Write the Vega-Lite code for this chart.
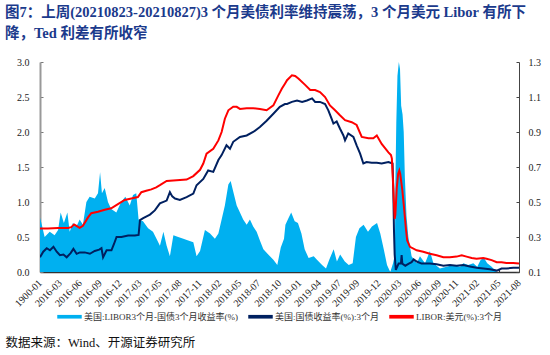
{
  "$schema": "https://vega.github.io/schema/vega-lite/v6.json",
  "autosize": "none",
  "width": 479,
  "height": 210,
  "padding": {"left": 40, "top": 62, "right": 31, "bottom": 83},
  "background": "white",
  "config": {
    "view": {"stroke": null},
    "font": "Liberation Serif, Noto Sans CJK SC",
    "axis": {"grid": false, "labelFont": "Liberation Serif, Noto Sans CJK SC", "labelFontSize": 10, "labelColor": "#222", "labelOverlap": false}
  },
  "title": {
    "text": ["图7：上周(20210823-20210827)3 个月美债利率维持震荡，3 个月美元 Libor 有所下", "降，Ted 利差有所收窄"],
    "anchor": "start",
    "frame": "group",
    "dx": -35,
    "offset": 16,
    "font": "Liberation Serif, Noto Sans CJK SC",
    "fontSize": 14.5,
    "fontWeight": "bold",
    "color": "#1b3a8c",
    "lineHeight": 21
  },
  "datasets": {
    "sp": [
      {"d":"2016-01-01","v":0.41},{"d":"2016-01-07","v":0.38},{"d":"2016-01-21","v":0.30},{"d":"2016-02-12","v":0.33},{"d":"2016-03-04","v":0.31},{"d":"2016-03-19","v":0.34},{"d":"2016-03-30","v":0.44},{"d":"2016-04-13","v":0.38},{"d":"2016-04-28","v":0.44},{"d":"2016-05-08","v":0.33},{"d":"2016-05-22","v":0.38},{"d":"2016-06-06","v":0.36},{"d":"2016-06-20","v":0.40},{"d":"2016-07-04","v":0.37},{"d":"2016-07-19","v":0.50},{"d":"2016-08-02","v":0.53},{"d":"2016-08-24","v":0.52},{"d":"2016-09-07","v":0.55},{"d":"2016-09-16","v":0.67},{"d":"2016-09-24","v":0.55},{"d":"2016-10-06","v":0.58},{"d":"2016-10-20","v":0.50},{"d":"2016-11-03","v":0.46},{"d":"2016-11-25","v":0.44},{"d":"2016-12-16","v":0.50},{"d":"2017-01-03","v":0.53},{"d":"2017-01-22","v":0.48},{"d":"2017-02-05","v":0.54},{"d":"2017-02-19","v":0.55},{"d":"2017-03-01","v":0.40},{"d":"2017-03-20","v":0.39},{"d":"2017-04-11","v":0.35},{"d":"2017-05-02","v":0.33},{"d":"2017-05-21","v":0.28},{"d":"2017-06-01","v":0.25},{"d":"2017-06-16","v":0.33},{"d":"2017-06-30","v":0.25},{"d":"2017-07-14","v":0.19},{"d":"2017-07-29","v":0.31},{"d":"2017-08-19","v":0.30},{"d":"2017-09-10","v":0.29},{"d":"2017-10-01","v":0.28},{"d":"2017-10-23","v":0.27},{"d":"2017-11-06","v":0.19},{"d":"2017-11-21","v":0.22},{"d":"2017-12-12","v":0.34},{"d":"2018-01-03","v":0.32},{"d":"2018-01-24","v":0.29},{"d":"2018-02-08","v":0.32},{"d":"2018-02-22","v":0.40},{"d":"2018-03-08","v":0.48},{"d":"2018-03-23","v":0.60},{"d":"2018-04-02","v":0.62},{"d":"2018-04-13","v":0.56},{"d":"2018-04-28","v":0.48},{"d":"2018-05-12","v":0.44},{"d":"2018-05-26","v":0.40},{"d":"2018-06-10","v":0.37},{"d":"2018-06-24","v":0.40},{"d":"2018-07-08","v":0.36},{"d":"2018-07-23","v":0.33},{"d":"2018-08-06","v":0.28},{"d":"2018-08-21","v":0.23},{"d":"2018-09-11","v":0.20},{"d":"2018-10-03","v":0.17},{"d":"2018-10-20","v":0.14},{"d":"2018-11-04","v":0.24},{"d":"2018-11-18","v":0.29},{"d":"2018-11-24","v":0.37},{"d":"2018-12-08","v":0.41},{"d":"2018-12-19","v":0.44},{"d":"2019-01-03","v":0.39},{"d":"2019-01-17","v":0.38},{"d":"2019-02-01","v":0.32},{"d":"2019-02-15","v":0.23},{"d":"2019-03-04","v":0.18},{"d":"2019-03-26","v":0.19},{"d":"2019-04-09","v":0.17},{"d":"2019-05-01","v":0.14},{"d":"2019-05-18","v":0.12},{"d":"2019-06-01","v":0.17},{"d":"2019-06-20","v":0.23},{"d":"2019-07-04","v":0.16},{"d":"2019-07-18","v":0.20},{"d":"2019-08-07","v":0.16},{"d":"2019-08-24","v":0.14},{"d":"2019-09-10","v":0.15},{"d":"2019-09-24","v":0.30},{"d":"2019-10-09","v":0.35},{"d":"2019-10-27","v":0.37},{"d":"2019-11-15","v":0.33},{"d":"2019-12-02","v":0.36},{"d":"2019-12-24","v":0.38},{"d":"2020-01-07","v":0.32},{"d":"2020-01-22","v":0.23},{"d":"2020-02-05","v":0.14},{"d":"2020-02-19","v":0.10},{"d":"2020-03-02","v":0.15},{"d":"2020-03-10","v":0.20},{"d":"2020-03-12","v":0.60},{"d":"2020-03-16","v":0.95},{"d":"2020-03-21","v":1.22},{"d":"2020-03-27","v":1.30},{"d":"2020-04-01","v":1.26},{"d":"2020-04-06","v":1.05},{"d":"2020-04-12","v":1.00},{"d":"2020-04-17","v":0.90},{"d":"2020-04-22","v":0.64},{"d":"2020-04-29","v":0.42},{"d":"2020-05-07","v":0.30},{"d":"2020-05-21","v":0.19},{"d":"2020-06-12","v":0.15},{"d":"2020-06-26","v":0.19},{"d":"2020-07-18","v":0.15},{"d":"2020-08-08","v":0.22},{"d":"2020-08-23","v":0.15},{"d":"2020-09-20","v":0.12},{"d":"2020-10-19","v":0.13},{"d":"2020-11-17","v":0.14},{"d":"2020-12-16","v":0.13},{"d":"2020-12-30","v":0.15},{"d":"2021-01-20","v":0.14},{"d":"2021-02-11","v":0.15},{"d":"2021-02-28","v":0.13},{"d":"2021-03-15","v":0.17},{"d":"2021-03-29","v":0.18},{"d":"2021-04-12","v":0.15},{"d":"2021-05-01","v":0.13},{"d":"2021-05-23","v":0.10},{"d":"2021-06-13","v":0.09},{"d":"2021-07-04","v":0.08},{"d":"2021-08-02","v":0.09},{"d":"2021-08-27","v":0.08}
    ],
    "ust": [
      {"d":"2016-01-01","v":0.21},{"d":"2016-01-15","v":0.29},{"d":"2016-01-30","v":0.34},{"d":"2016-02-13","v":0.31},{"d":"2016-02-28","v":0.36},{"d":"2016-03-13","v":0.29},{"d":"2016-03-27","v":0.24},{"d":"2016-04-11","v":0.25},{"d":"2016-04-25","v":0.21},{"d":"2016-05-12","v":0.27},{"d":"2016-05-24","v":0.33},{"d":"2016-06-07","v":0.26},{"d":"2016-06-21","v":0.28},{"d":"2016-07-12","v":0.28},{"d":"2016-08-03","v":0.26},{"d":"2016-08-24","v":0.30},{"d":"2016-09-12","v":0.32},{"d":"2016-09-22","v":0.34},{"d":"2016-09-29","v":0.21},{"d":"2016-10-14","v":0.31},{"d":"2016-11-04","v":0.31},{"d":"2016-11-15","v":0.40},{"d":"2016-11-26","v":0.50},{"d":"2016-12-17","v":0.50},{"d":"2017-01-15","v":0.52},{"d":"2017-02-13","v":0.52},{"d":"2017-03-01","v":0.53},{"d":"2017-03-07","v":0.74},{"d":"2017-03-21","v":0.77},{"d":"2017-04-19","v":0.82},{"d":"2017-05-10","v":0.88},{"d":"2017-06-01","v":0.98},{"d":"2017-06-30","v":1.02},{"d":"2017-07-14","v":1.14},{"d":"2017-07-24","v":1.08},{"d":"2017-08-05","v":1.05},{"d":"2017-08-26","v":1.03},{"d":"2017-09-24","v":1.07},{"d":"2017-10-23","v":1.12},{"d":"2017-11-06","v":1.24},{"d":"2017-12-05","v":1.33},{"d":"2017-12-26","v":1.45},{"d":"2018-01-17","v":1.43},{"d":"2018-02-08","v":1.60},{"d":"2018-02-22","v":1.67},{"d":"2018-03-15","v":1.81},{"d":"2018-03-30","v":1.76},{"d":"2018-04-13","v":1.86},{"d":"2018-05-12","v":1.93},{"d":"2018-06-10","v":1.95},{"d":"2018-07-08","v":2.00},{"d":"2018-08-06","v":2.07},{"d":"2018-09-04","v":2.16},{"d":"2018-10-03","v":2.26},{"d":"2018-10-31","v":2.36},{"d":"2018-11-22","v":2.40},{"d":"2018-12-01","v":2.40},{"d":"2018-12-22","v":2.43},{"d":"2019-01-13","v":2.45},{"d":"2019-02-04","v":2.43},{"d":"2019-02-25","v":2.45},{"d":"2019-03-19","v":2.48},{"d":"2019-04-01","v":2.43},{"d":"2019-04-22","v":2.43},{"d":"2019-05-14","v":2.40},{"d":"2019-05-28","v":2.31},{"d":"2019-06-11","v":2.19},{"d":"2019-06-19","v":2.12},{"d":"2019-07-03","v":2.15},{"d":"2019-07-17","v":2.05},{"d":"2019-08-01","v":1.95},{"d":"2019-08-08","v":1.88},{"d":"2019-08-22","v":1.98},{"d":"2019-09-13","v":1.93},{"d":"2019-09-27","v":1.81},{"d":"2019-10-12","v":1.69},{"d":"2019-10-26","v":1.55},{"d":"2019-11-09","v":1.57},{"d":"2019-12-01","v":1.56},{"d":"2019-12-23","v":1.56},{"d":"2020-01-13","v":1.55},{"d":"2020-02-11","v":1.57},{"d":"2020-02-29","v":1.55},{"d":"2020-03-03","v":1.20},{"d":"2020-03-06","v":0.60},{"d":"2020-03-09","v":0.25},{"d":"2020-03-14","v":0.03},{"d":"2020-03-26","v":0.12},{"d":"2020-04-05","v":0.12},{"d":"2020-04-08","v":0.24},{"d":"2020-04-11","v":0.12},{"d":"2020-04-24","v":0.09},{"d":"2020-05-09","v":0.12},{"d":"2020-05-21","v":0.14},{"d":"2020-05-30","v":0.18},{"d":"2020-06-12","v":0.15},{"d":"2020-07-03","v":0.12},{"d":"2020-08-08","v":0.12},{"d":"2020-09-06","v":0.11},{"d":"2020-10-05","v":0.09},{"d":"2020-11-02","v":0.10},{"d":"2020-12-01","v":0.09},{"d":"2020-12-30","v":0.10},{"d":"2021-01-27","v":0.08},{"d":"2021-02-25","v":0.06},{"d":"2021-03-26","v":0.05},{"d":"2021-04-24","v":0.04},{"d":"2021-05-23","v":0.02},{"d":"2021-06-13","v":0.05},{"d":"2021-07-04","v":0.05},{"d":"2021-08-02","v":0.06},{"d":"2021-08-27","v":0.06}
    ],
    "lib": [
      {"d":"2016-01-01","v":0.62},{"d":"2016-02-04","v":0.62},{"d":"2016-03-19","v":0.63},{"d":"2016-05-01","v":0.63},{"d":"2016-05-15","v":0.64},{"d":"2016-05-27","v":0.68},{"d":"2016-06-06","v":0.66},{"d":"2016-06-20","v":0.63},{"d":"2016-07-04","v":0.66},{"d":"2016-07-26","v":0.78},{"d":"2016-08-09","v":0.84},{"d":"2016-09-07","v":0.86},{"d":"2016-10-06","v":0.89},{"d":"2016-11-03","v":0.91},{"d":"2016-12-02","v":0.97},{"d":"2016-12-31","v":1.03},{"d":"2017-01-29","v":1.05},{"d":"2017-02-26","v":1.07},{"d":"2017-03-13","v":1.14},{"d":"2017-04-03","v":1.16},{"d":"2017-04-25","v":1.18},{"d":"2017-05-16","v":1.21},{"d":"2017-06-01","v":1.24},{"d":"2017-06-30","v":1.30},{"d":"2017-08-12","v":1.31},{"d":"2017-09-24","v":1.32},{"d":"2017-10-23","v":1.37},{"d":"2017-11-21","v":1.46},{"d":"2017-12-05","v":1.55},{"d":"2017-12-19","v":1.69},{"d":"2018-01-17","v":1.76},{"d":"2018-02-08","v":1.88},{"d":"2018-02-22","v":2.00},{"d":"2018-03-08","v":2.19},{"d":"2018-03-23","v":2.31},{"d":"2018-04-13","v":2.36},{"d":"2018-04-28","v":2.36},{"d":"2018-05-12","v":2.33},{"d":"2018-06-10","v":2.34},{"d":"2018-07-08","v":2.34},{"d":"2018-08-06","v":2.33},{"d":"2018-09-04","v":2.31},{"d":"2018-10-03","v":2.38},{"d":"2018-10-24","v":2.52},{"d":"2018-11-09","v":2.62},{"d":"2018-11-22","v":2.69},{"d":"2018-12-01","v":2.74},{"d":"2018-12-22","v":2.81},{"d":"2019-01-05","v":2.80},{"d":"2019-01-20","v":2.76},{"d":"2019-02-18","v":2.67},{"d":"2019-03-11","v":2.60},{"d":"2019-04-01","v":2.60},{"d":"2019-04-22","v":2.57},{"d":"2019-05-14","v":2.50},{"d":"2019-06-04","v":2.38},{"d":"2019-06-26","v":2.31},{"d":"2019-07-17","v":2.24},{"d":"2019-08-08","v":2.17},{"d":"2019-09-06","v":2.14},{"d":"2019-09-27","v":2.10},{"d":"2019-10-19","v":1.93},{"d":"2019-11-17","v":1.91},{"d":"2019-12-08","v":1.91},{"d":"2019-12-23","v":1.95},{"d":"2020-01-13","v":1.83},{"d":"2020-02-11","v":1.71},{"d":"2020-02-22","v":1.67},{"d":"2020-02-26","v":1.62},{"d":"2020-03-03","v":1.20},{"d":"2020-03-09","v":0.76},{"d":"2020-03-12","v":0.82},{"d":"2020-03-18","v":1.20},{"d":"2020-03-24","v":1.40},{"d":"2020-03-29","v":1.45},{"d":"2020-04-02","v":1.40},{"d":"2020-04-11","v":1.17},{"d":"2020-04-18","v":0.93},{"d":"2020-04-27","v":0.60},{"d":"2020-05-02","v":0.45},{"d":"2020-05-14","v":0.36},{"d":"2020-06-12","v":0.31},{"d":"2020-07-10","v":0.29},{"d":"2020-08-08","v":0.26},{"d":"2020-09-06","v":0.24},{"d":"2020-10-05","v":0.21},{"d":"2020-11-02","v":0.21},{"d":"2020-12-01","v":0.22},{"d":"2020-12-23","v":0.24},{"d":"2021-01-13","v":0.22},{"d":"2021-02-04","v":0.20},{"d":"2021-02-25","v":0.19},{"d":"2021-03-26","v":0.20},{"d":"2021-04-09","v":0.19},{"d":"2021-05-01","v":0.17},{"d":"2021-05-23","v":0.14},{"d":"2021-06-13","v":0.14},{"d":"2021-07-04","v":0.13},{"d":"2021-08-02","v":0.13},{"d":"2021-08-27","v":0.12}
    ]
  },
  "encoding": {
    "x": {
      "field": "d", "type": "temporal",
      "scale": {"type": "utc", "domain": [{"year": 2016, "month": 1, "date": 1, "utc": true}, {"year": 2021, "month": 8, "date": 27, "utc": true}]},
      "axis": {
        "values": [
          {"year":2016,"month":1,"date":1,"utc":true},{"year":2016,"month":3,"date":27,"utc":true},{"year":2016,"month":6,"date":21,"utc":true},{"year":2016,"month":9,"date":15,"utc":true},{"year":2016,"month":12,"date":10,"utc":true},{"year":2017,"month":3,"date":6,"utc":true},{"year":2017,"month":5,"date":31,"utc":true},{"year":2017,"month":8,"date":25,"utc":true},{"year":2017,"month":11,"date":19,"utc":true},{"year":2018,"month":2,"date":13,"utc":true},{"year":2018,"month":5,"date":10,"utc":true},{"year":2018,"month":7,"date":31,"utc":true},{"year":2018,"month":10,"date":29,"utc":true},{"year":2019,"month":1,"date":23,"utc":true},{"year":2019,"month":4,"date":19,"utc":true},{"year":2019,"month":7,"date":14,"utc":true},{"year":2019,"month":9,"date":30,"utc":true},{"year":2019,"month":12,"date":31,"utc":true},{"year":2020,"month":3,"date":29,"utc":true},{"year":2020,"month":6,"date":23,"utc":true},{"year":2020,"month":9,"date":17,"utc":true},{"year":2020,"month":11,"date":30,"utc":true},{"year":2021,"month":2,"date":28,"utc":true},{"year":2021,"month":5,"date":31,"utc":true},{"year":2021,"month":8,"date":27,"utc":true}
        ],
        "labelExpr": "utcFormat(datum.value, '%Y-%m') == '2016-01' ? '1900-01' : utcFormat(datum.value, '%Y-%m')",
        "labelAngle": -45,
        "labelAlign": "right",
        "labelBaseline": "middle",
        "labelPadding": 12,
        "labelOverlap": false,
        "labelSeparation": 0,
        "labelBound": false,
        "labelFlush": false,
        "domainColor": "#333",
        "domainWidth": 1.5,
        "tickColor": "#333",
        "tickSize": -3,
        "title": "数据来源：Wind、开源证券研究所",
        "titleFont": "Liberation Serif, Noto Sans CJK SC",
        "titleFontSize": 12.5,
        "titleFontWeight": "normal",
        "titleColor": "#111",
        "titleAnchor": "start",
        "titleAlign": "left",
        "titleBaseline": "alphabetic",
        "titleX": -35,
        "titleY": 74
      }
    }
  },
  "resolve": {"scale": {"y": "independent"}},
  "layer": [
    {
      "data": {"name": "sp"},
      "mark": {"type": "area", "color": "#00B0F0", "clip": true, "interpolate": "linear"},
      "encoding": {
        "y": {
          "field": "v", "type": "quantitative",
          "scale": {"domain": [0.1, 1.3], "nice": false, "zero": false},
          "axis": {
            "orient": "right",
            "values": [0.1, 0.3, 0.5, 0.7, 0.9, 1.1, 1.3],
            "format": ".1f",
            "title": null,
            "domainColor": "#444",
            "domainWidth": 1,
            "tickColor": "#444",
            "tickSize": -3,
            "labelPadding": 12
          }
        },
        "color": {
          "datum": "美国:LIBOR3个月-国债3个月收益率(%)",
          "type": "nominal",
          "scale": {
            "domain": ["美国:LIBOR3个月-国债3个月收益率(%)", "美国:国债收益率(%):3个月", "LIBOR:美元(%):3个月"],
            "range": ["#00B0F0", "#002060", "#FF0000"]
          },
          "legend": {
            "orient": "none",
            "legendX": 17,
            "legendY": 242,
            "direction": "horizontal",
            "title": null,
            "symbolType": "M-1,-0.15L1,-0.15L1,0.15L-1,0.15Z",
            "symbolSize": 600,
            "symbolStrokeWidth": 0,
            "labelFont": "Liberation Serif, Noto Sans CJK SC",
            "labelFontSize": 9,
            "labelColor": "#333",
            "labelOffset": 2,
            "columnPadding": 10,
            "labelLimit": 300,
            "encode": {"symbols": {"update": {"fill": {"scale": "color", "field": "value"}, "stroke": {"value": "transparent"}, "opacity": {"value": 1}, "fillOpacity": {"value": 1}}}}
          }
        }
      }
    },
    {
      "data": {"name": "ust"},
      "mark": {"type": "line", "strokeWidth": 2, "clip": true},
      "encoding": {
        "y": {
          "field": "v", "type": "quantitative",
          "scale": {"domain": [0, 3], "nice": false},
          "axis": {
            "orient": "left",
            "values": [0, 0.5, 1, 1.5, 2, 2.5, 3],
            "format": ".1f",
            "title": null,
            "domainColor": "#999",
            "domainWidth": 2,
            "tickColor": "#777",
            "tickSize": -3,
            "labelPadding": 14
          }
        },
        "color": {"datum": "美国:国债收益率(%):3个月", "type": "nominal"}
      }
    },
    {
      "data": {"name": "lib"},
      "mark": {"type": "line", "strokeWidth": 2, "clip": true},
      "encoding": {
        "y": {
          "field": "v", "type": "quantitative",
          "scale": {"domain": [0, 3], "nice": false},
          "axis": null
        },
        "color": {"datum": "LIBOR:美元(%):3个月", "type": "nominal"}
      }
    }
  ]
}
